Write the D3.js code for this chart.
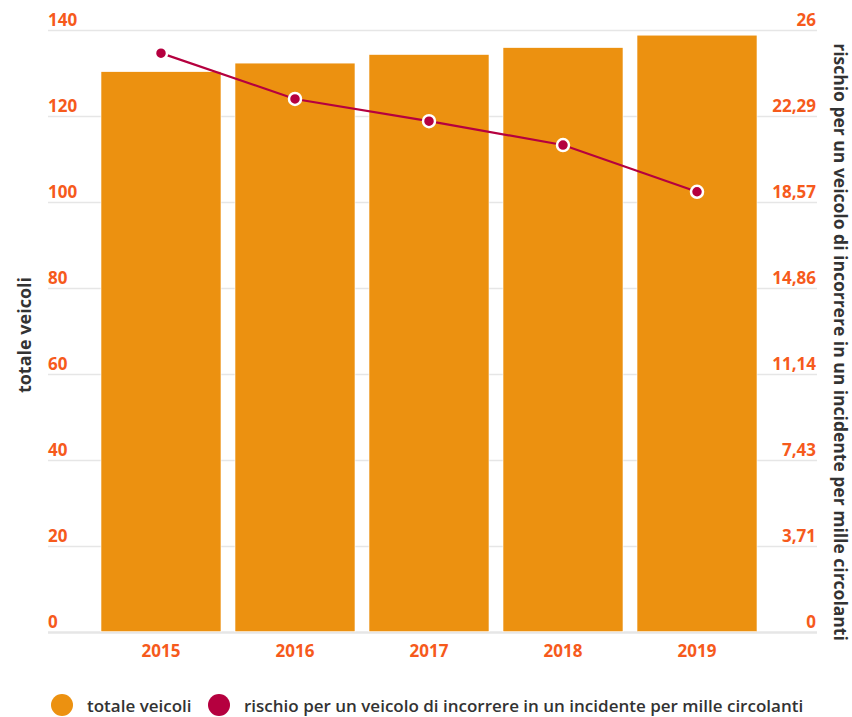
<!DOCTYPE html>
<html><head><meta charset="utf-8">
<script src="https://cdn.jsdelivr.net/npm/d3@7"></script>
<style>
html,body{margin:0;padding:0;background:#fff;}
svg{display:block;font-family:"Open Sans",sans-serif;}
</style></head>
<body>
<svg id="c" width="852" height="717"></svg>
<script>
const years = ["2015","2016","2017","2018","2019"];
const totaleVeicoli = [130.3, 132.3, 134.3, 135.9, 138.8];
const rischio = [25.0, 23.02, 22.06, 21.03, 19.01];
const leftTicks = [0,20,40,60,80,100,120,140];
const rightTicks = [0, 26/7, 52/7, 78/7, 104/7, 130/7, 156/7, 26];
const rightTickLabels = ["0","3,71","7,43","11,14","14,86","18,57","22,29","26"];
const seriesNames = ["totale veicoli","rischio per un veicolo di incorrere in un incidente per mille circolanti"];

const svg = d3.select("#c");
const gridL = 48, gridR = 817, y0 = 631.7, y1 = 30;
const x = d3.scaleBand().domain(years).range([94, 764]).paddingInner(0.1045).paddingOuter(0.0522);
const yL = d3.scaleLinear().domain([0,140]).range([y0,y1]);
const yR = d3.scaleLinear().domain([0,26]).range([y0,y1]);
const orange = "#ec9110", crimson = "#b5003f", tickCol = "#f65a1c", titleCol = "#333333";

// gridlines
svg.append("g").selectAll("line").data(leftTicks).join("line")
  .attr("x1", gridL).attr("x2", gridR)
  .attr("y1", d=>Math.round(yL(d))+0.5).attr("y2", d=>Math.round(yL(d))+0.5)
  .attr("stroke", "#e6e6e6").attr("stroke-width", d=>d===0?2.5:1.5);

// bars
svg.append("g").selectAll("rect").data(years).join("rect")
  .attr("x", d=>x(d)).attr("width", x.bandwidth())
  .attr("y", (d,i)=>yL(totaleVeicoli[i])).attr("height", (d,i)=>yL(0)-yL(totaleVeicoli[i]))
  .attr("fill", orange).attr("stroke","#fff").attr("stroke-width",0.6);

// left tick labels
svg.append("g").selectAll("text").data(leftTicks).join("text")
  .attr("x", gridL).attr("y", d=>yL(d)-4)
  .attr("fill", tickCol).attr("font-size", 17).attr("font-weight", 700)
  .text(d=>d);

// right tick labels
svg.append("g").selectAll("text").data(rightTicks).join("text")
  .attr("x", gridR-1).attr("y", d=>yR(d)-4).attr("text-anchor","end")
  .attr("fill", tickCol).attr("font-size", 17).attr("font-weight", 700)
  .text((d,i)=>rightTickLabels[i]);

// x labels
svg.append("g").selectAll("text").data(years).join("text")
  .attr("x", d=>x(d)+x.bandwidth()/2).attr("y", 657).attr("text-anchor","middle")
  .attr("fill", tickCol).attr("font-size", 17).attr("font-weight", 700)
  .text(d=>d);

// line
const cx = d=>x(d)+x.bandwidth()/2;
const line = d3.line().x((d,i)=>cx(years[i])).y(d=>yR(d));
svg.append("path").datum(rischio).attr("d", line)
  .attr("fill","none").attr("stroke", crimson).attr("stroke-width", 2.2);
svg.append("g").selectAll("circle").data(rischio).join("circle")
  .attr("cx",(d,i)=>cx(years[i])).attr("cy", d=>yR(d)).attr("r", 6)
  .attr("fill", crimson).attr("stroke","#fff").attr("stroke-width", 2.5);

// axis titles
svg.append("text").attr("transform","translate(31,335) rotate(-90)")
  .attr("text-anchor","middle").attr("fill", titleCol).attr("font-size",18).attr("font-weight",700)
  .text("totale veicoli");
svg.append("text").attr("transform","translate(834,342) rotate(90)")
  .attr("text-anchor","middle").attr("fill", titleCol).attr("font-size",17.5).attr("font-weight",700)
  .text(seriesNames[1]);

// legend
const lg = svg.append("g");
const legendX = [62, 219];
const legendCol = [orange, crimson];
seriesNames.forEach((n,i)=>{
  lg.append("circle").attr("cx", legendX[i]).attr("cy", 705).attr("r", 11).attr("fill", legendCol[i]);
  lg.append("text").attr("x", legendX[i]+25).attr("y", 712)
    .attr("fill", titleCol).attr("font-size",17).attr("font-weight",600).text(n);
});
</script>
</body></html>
